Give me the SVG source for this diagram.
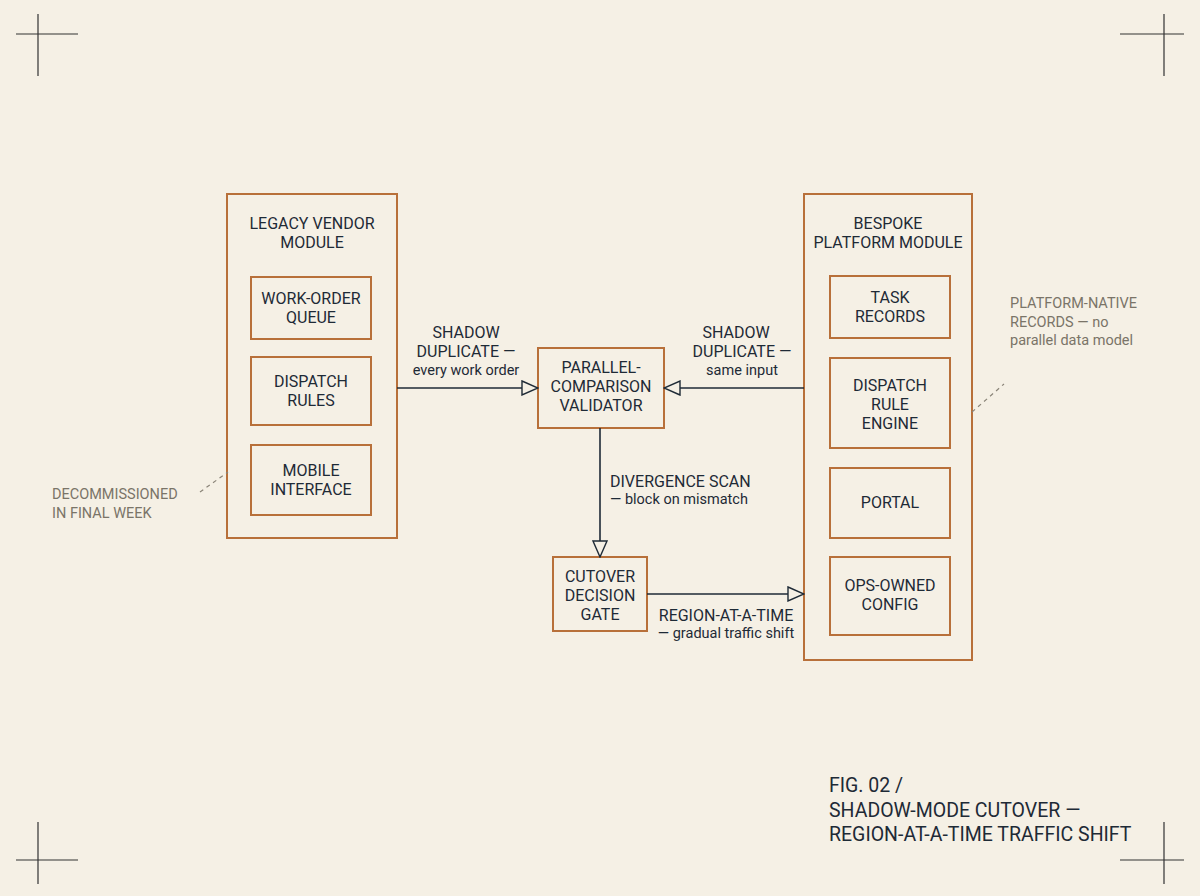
<svg xmlns="http://www.w3.org/2000/svg" width="1200" height="896" viewBox="0 0 1200 896">
<style>
.b{fill:#f5f0e5;stroke:#b8703a;stroke-width:2}
.t{font-family:Roboto,"Liberation Sans",sans-serif;font-size:16px;fill:#1e2a36;text-anchor:middle}
.n{font-family:Roboto,"Liberation Sans",sans-serif;font-size:14.5px;fill:#1e2a36;text-anchor:middle}
.g{font-family:Roboto,"Liberation Sans",sans-serif;font-size:14.5px;fill:#7a7468}
.c{stroke:#1e2a36;stroke-width:1.6;fill:none}
.k{stroke:#333;stroke-width:1.2;fill:none}
.d{stroke:#8a8478;stroke-width:1.2;fill:none;stroke-dasharray:4 4}
</style>
<defs><marker id="a" markerWidth="18" markerHeight="16" refX="17" refY="8" orient="auto" markerUnits="userSpaceOnUse"><path d="M1,1 L17,8 L1,15 Z" fill="#f5f0e5" stroke="#1e2a36" stroke-width="1.4"/></marker></defs>
<rect width="1200" height="896" fill="#f5f0e5"/>
<g class="k"><path d="M16,34 H78 M38,14 V76"/><path d="M1120,34 H1184 M1164,14 V76"/><path d="M16,860 H78 M38,822 V884"/><path d="M1120,860 H1184 M1164,822 V884"/></g>
<g id="legacy"><rect class="b" x="227" y="194" width="170" height="344"/><text class="t" x="312" y="229">LEGACY VENDOR</text><text class="t" x="312" y="248">MODULE</text></g>
<g id="woq"><rect class="b" x="251" y="277" width="120" height="62"/><text class="t" x="311" y="304">WORK-ORDER</text><text class="t" x="311" y="323">QUEUE</text></g>
<g id="dr"><rect class="b" x="251" y="357" width="120" height="68"/><text class="t" x="311" y="387">DISPATCH</text><text class="t" x="311" y="406">RULES</text></g>
<g id="mi"><rect class="b" x="251" y="445" width="120" height="70"/><text class="t" x="311" y="476">MOBILE</text><text class="t" x="311" y="495">INTERFACE</text></g>
<g id="bespoke"><rect class="b" x="804" y="194" width="168" height="466"/><text class="t" x="888" y="229">BESPOKE</text><text class="t" x="888" y="248">PLATFORM MODULE</text></g>
<g id="tr"><rect class="b" x="830" y="276" width="120" height="62"/><text class="t" x="890" y="303">TASK</text><text class="t" x="890" y="322">RECORDS</text></g>
<g id="dre"><rect class="b" x="830" y="358" width="120" height="90"/><text class="t" x="890" y="391">DISPATCH</text><text class="t" x="890" y="410">RULE</text><text class="t" x="890" y="429">ENGINE</text></g>
<g id="portal"><rect class="b" x="830" y="468" width="120" height="70"/><text class="t" x="890" y="508">PORTAL</text></g>
<g id="ops"><rect class="b" x="830" y="557" width="120" height="78"/><text class="t" x="890" y="591">OPS-OWNED</text><text class="t" x="890" y="610">CONFIG</text></g>
<g id="val"><rect class="b" x="538" y="348" width="126" height="80"/><text class="t" x="601" y="373">PARALLEL-</text><text class="t" x="601" y="392">COMPARISON</text><text class="t" x="601" y="411">VALIDATOR</text></g>
<g id="gate"><rect class="b" x="553" y="557" width="94" height="74"/><text class="t" x="600" y="582">CUTOVER</text><text class="t" x="600" y="601">DECISION</text><text class="t" x="600" y="620">GATE</text></g>
<g id="connectors">
<path class="c" d="M397,388 H538" marker-end="url(#a)"/>
<path class="c" d="M804,388 H664" marker-end="url(#a)"/>
<path class="c" d="M600,428 V557" marker-end="url(#a)"/>
<path class="c" d="M647,594 H804" marker-end="url(#a)"/>
<path class="d" d="M200,492 L228,472"/><path class="d" d="M972,412 L1004,384"/>
</g>
<g id="labels">
<text class="t" x="466" y="338">SHADOW</text><text class="t" x="466" y="357">DUPLICATE —</text><text class="n" x="466" y="375">every work order</text>
<text class="t" x="736" y="338">SHADOW</text><text class="t" x="742" y="357">DUPLICATE —</text><text class="n" x="742" y="375">same input</text>
<text class="t" x="610" y="487" style="text-anchor:start">DIVERGENCE SCAN</text><text class="n" x="610" y="504" style="text-anchor:start">— block on mismatch</text>
<text class="t" x="726" y="621">REGION-AT-A-TIME</text><text class="n" x="726" y="638">— gradual traffic shift</text>
<text class="g" x="52" y="499">DECOMMISSIONED</text><text class="g" x="52" y="518">IN FINAL WEEK</text>
<text class="g" x="1010" y="308">PLATFORM-NATIVE</text><text class="g" x="1010" y="327">RECORDS — no</text><text class="g" x="1010" y="345">parallel data model</text>
<text class="t" x="829" y="792" style="text-anchor:start;font-size:19.5px">FIG. 02 /</text>
<text class="t" x="829" y="817" style="text-anchor:start;font-size:19.5px">SHADOW-MODE CUTOVER —</text>
<text class="t" x="829" y="841" style="text-anchor:start;font-size:19.5px">REGION-AT-A-TIME TRAFFIC SHIFT</text>
</g>
</svg>
